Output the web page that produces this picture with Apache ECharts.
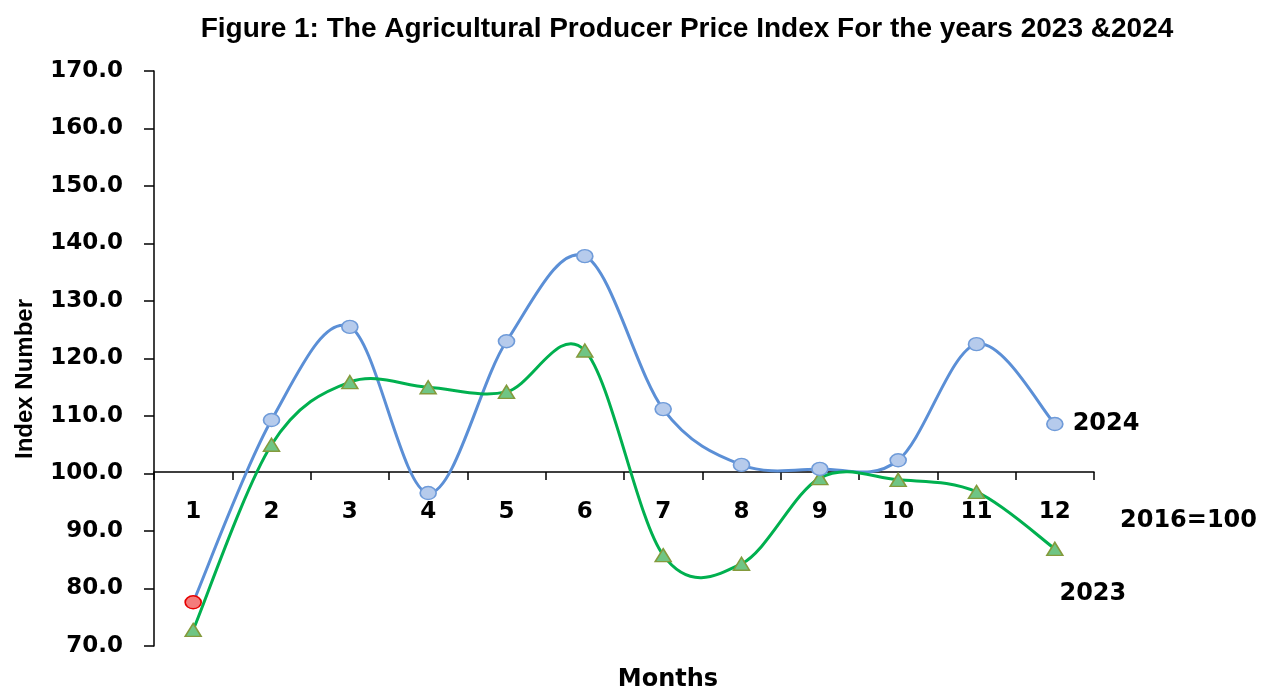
<!DOCTYPE html>
<html>
<head>
<meta charset="utf-8">
<script src="https://cdn.jsdelivr.net/npm/echarts@6/dist/echarts.min.js"></script>
<style>
  html, body { margin: 0; padding: 0; background: #fff; }
  #chart { width: 1267px; height: 692px; }
</style>
</head>
<body>
<div id="chart"></div>
<script>
// months on the x axis
const months = ["1", "2", "3", "4", "5", "6", "7", "8", "9", "10", "11", "12"];
// index values (2016=100)
const index2024 = [77.6, 109.3, 125.5, 96.6, 123.0, 137.8, 111.2, 101.5, 100.8, 102.3, 122.5, 108.6];
const index2023 = [72.8, 105.0, 115.9, 115.0, 114.2, 121.4, 85.8, 84.3, 99.2, 98.9, 96.8, 86.9];
const yTicks = { min: 70, max: 170, step: 10 };

const boldFont = "DejaVu Sans";
const blue = "#5b8fd6";
const green = "#00b04f";

// last point carries the year label, first 2024 point is red in the original
function pointsFor(values, year, labelOpt, firstStyle) {
  return values.map((v, i) => {
    let item = { value: v };
    if (i === 0 && firstStyle) item.itemStyle = firstStyle;
    if (i === values.length - 1) {
      item.label = Object.assign({
        show: true,
        formatter: year,
        color: "#000",
        fontFamily: boldFont,
        fontWeight: "bold",
        fontSize: 24,
      }, labelOpt);
    }
    return item;
  });
}

// excel style smoothed line: one bezier per segment, control points at 1/6 of neighbour span
function smoothSegment(values, color) {
  return function (params, api) {
    const i = params.dataIndex;
    const n = values.length;
    if (i >= n - 1) return null;
    const p = (k) => {
      k = Math.max(0, Math.min(n - 1, k));
      return api.coord([k, values[k]]);
    };
    const p0 = p(i - 1), p1 = p(i), p2 = p(i + 1), p3 = p(i + 2);
    return {
      type: "bezierCurve",
      shape: {
        x1: p1[0], y1: p1[1],
        x2: p2[0], y2: p2[1],
        cpx1: p1[0] + (p2[0] - p0[0]) / 6,
        cpy1: p1[1] + (p2[1] - p0[1]) / 6,
        cpx2: p2[0] - (p3[0] - p1[0]) / 6,
        cpy2: p2[1] - (p3[1] - p1[1]) / 6,
      },
      style: { stroke: color, lineWidth: 3, fill: null },
    };
  };
}

let myChart = echarts.init(document.getElementById("chart"));
myChart.setOption({
  animation: false,
  title: {
    text: "Figure 1: The Agricultural Producer Price Index For the years 2023 &2024",
    left: 682,
    top: 10,
    textAlign: "center",
    textStyle: {
      fontFamily: "Liberation Sans",
      fontWeight: "bold",
      fontSize: 28,
      color: "#000",
    },
  },
  grid: { left: 154, right: 173, top: 71, bottom: 46 },
  xAxis: {
    type: "category",
    data: months,
    boundaryGap: true,
    position: "bottom",
    offset: -174,
    axisLine: { onZero: false, lineStyle: { color: "#000", width: 1.5 } },
    axisTick: { show: true, alignWithLabel: false, length: 8, lineStyle: { color: "#000", width: 1.5 } },
    axisLabel: {
      margin: 29,
      color: "#000",
      fontFamily: boldFont,
      fontWeight: "bold",
      fontSize: 23,
    },
    splitLine: { show: false },
  },
  yAxis: {
    type: "value",
    min: yTicks.min,
    max: yTicks.max,
    interval: yTicks.step,
    axisLine: { show: true, lineStyle: { color: "#000", width: 1.5 } },
    axisTick: { show: true, length: 10, lineStyle: { color: "#000", width: 1.5 } },
    axisLabel: {
      margin: 31,
      color: "#000",
      fontFamily: boldFont,
      fontWeight: "bold",
      fontSize: 23,
      formatter: (v) => v.toFixed(1),
    },
    splitLine: { show: false },
  },
  graphic: [
    {
      type: "text",
      left: 1120,
      top: 509,
      style: { text: "2016=100", fill: "#000", font: "bold 24px " + boldFont },
    },
    {
      type: "text",
      x: 668,
      y: 680,
      style: {
        text: "Months", fill: "#000", font: "bold 24px " + boldFont,
        align: "center", verticalAlign: "middle",
      },
    },
    {
      type: "text",
      x: 25,
      y: 379,
      rotation: Math.PI / 2,
      style: {
        text: "Index Number", fill: "#000", font: "bold 24px Liberation Sans",
        align: "center", verticalAlign: "middle",
      },
    },
  ],
  series: [
    {
      type: "custom",
      renderItem: smoothSegment(index2024, blue),
      data: index2024.map((v, i) => [i, v]),
      encode: { x: 0, y: 1 },
      z: 1,
      silent: true,
    },
    {
      type: "custom",
      renderItem: smoothSegment(index2023, green),
      data: index2023.map((v, i) => [i, v]),
      encode: { x: 0, y: 1 },
      z: 1,
      silent: true,
    },
    {
      name: "2024",
      type: "line",
      data: pointsFor(index2024, "2024", { position: "right", distance: 9 },
        { color: "#f47c7c", borderColor: "#e60000", borderWidth: 1.5 }),
      symbol: "circle",
      symbolSize: [16, 13],
      lineStyle: { opacity: 0 },
      itemStyle: { color: "#b6cbec", borderColor: "#6f9bd9", borderWidth: 1.5 },
      z: 3,
    },
    {
      name: "2023",
      type: "line",
      data: pointsFor(index2023, "2023", { position: "bottom", distance: 26, offset: [38, 0] }),
      symbol: "triangle",
      symbolSize: [16, 13],
      lineStyle: { opacity: 0 },
      itemStyle: { color: "#6fc584", borderColor: "#849a3c", borderWidth: 1.5 },
      z: 2,
    },
  ],
});
</script>
</body>
</html>
